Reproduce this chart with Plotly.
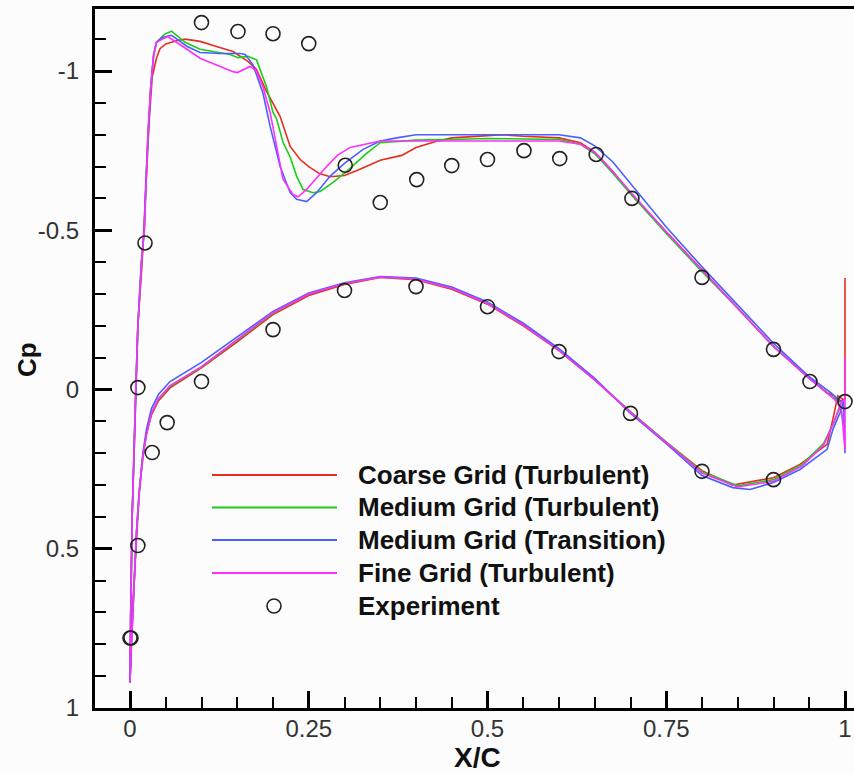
import plotly.graph_objects as go

# ---------------- data ----------------
series_names = ["Coarse Grid (Turbulent)", "Medium Grid (Turbulent)",
                "Medium Grid (Transition)", "Fine Grid (Turbulent)"]
series_colors = ["rgb(232,45,30)", "rgb(25,205,25)", "rgb(75,95,255)", "rgb(255,45,255)"]

# Coarse grid: upper surface TE->LE, then lower surface LE->TE
coarse_x = [1.0, 1.0, 0.99, 0.985, 0.975, 0.95, 0.9, 0.85, 0.8, 0.75, 0.7, 0.675, 0.65, 0.63, 0.6,
            0.55, 0.52, 0.5, 0.45, 0.43, 0.4, 0.38, 0.35, 0.32, 0.3, 0.28, 0.265, 0.25, 0.238, 0.224,
            0.21, 0.19, 0.177, 0.165, 0.144, 0.121, 0.098, 0.077, 0.066, 0.05, 0.042, 0.037, 0.031,
            0.027, 0.024, 0.021, 0.017, 0.011, 0.008, 0.005, 0.003, 0.001, 0.0,
            0.002, 0.006, 0.009, 0.013, 0.018, 0.023, 0.03, 0.04, 0.056, 0.1, 0.15, 0.2, 0.25, 0.3,
            0.35, 0.4, 0.45, 0.5, 0.55, 0.6, 0.65, 0.7, 0.75, 0.8, 0.843, 0.9, 0.937, 0.975, 0.983,
            0.987, 0.99, 1.0]
coarse_cp = [-0.35, 0.03, 0.04, 0.02, 0.01, -0.035, -0.135, -0.255, -0.375, -0.495, -0.615, -0.685,
             -0.745, -0.775, -0.79, -0.795, -0.80, -0.797, -0.79, -0.78, -0.76, -0.735, -0.72, -0.69,
             -0.672, -0.668, -0.678, -0.70, -0.722, -0.763, -0.857, -0.94, -1.005, -1.03, -1.061,
             -1.077, -1.093, -1.10, -1.096, -1.085, -1.07, -1.04, -0.98, -0.85, -0.70, -0.55, -0.40,
             -0.2, 0.0, 0.2, 0.4, 0.7, 0.92,
             0.75, 0.6, 0.45, 0.32, 0.21, 0.14, 0.08, 0.035, -0.005, -0.068, -0.15, -0.235, -0.295,
             -0.33, -0.352, -0.345, -0.315, -0.268, -0.2, -0.122, -0.03, 0.07, 0.165, 0.255, 0.30,
             0.277, 0.235, 0.172, 0.094, 0.05, 0.02, 0.035]

medium_x = [1.0, 0.99, 0.98, 0.95, 0.9, 0.85, 0.8, 0.75, 0.7, 0.675, 0.65, 0.63, 0.6, 0.5, 0.45,
            0.4, 0.35, 0.33, 0.303, 0.284, 0.266, 0.256, 0.242, 0.233, 0.224, 0.214, 0.205, 0.2,
            0.191, 0.186, 0.177, 0.165, 0.151, 0.14, 0.098, 0.077, 0.058, 0.048, 0.037, 0.033,
            0.029, 0.025, 0.022, 0.02, 0.016, 0.011, 0.008, 0.005, 0.003, 0.001, 0.0,
            0.002, 0.006, 0.009, 0.013, 0.018, 0.023, 0.03, 0.04, 0.056, 0.1, 0.15, 0.2, 0.25, 0.3,
            0.35, 0.4, 0.45, 0.5, 0.55, 0.6, 0.65, 0.7, 0.75, 0.8, 0.85, 0.9, 0.94, 0.97, 0.985,
            0.995, 1.0]
medium_cp = [0.12, 0.035, 0.02, -0.035, -0.135, -0.255, -0.37, -0.49, -0.615, -0.68, -0.74, -0.77,
             -0.785, -0.788, -0.785, -0.783, -0.775, -0.74, -0.685, -0.65, -0.622, -0.618, -0.628,
             -0.67, -0.73, -0.776, -0.85, -0.87, -0.95, -0.98, -1.035, -1.046, -1.042, -1.052,
             -1.068, -1.09, -1.125, -1.115, -1.09, -1.05, -0.95, -0.8, -0.65, -0.5, -0.4, -0.2, 0.0,
             0.2, 0.4, 0.7, 0.92,
             0.8, 0.62, 0.45, 0.32, 0.21, 0.14, 0.075, 0.03, -0.01, -0.07, -0.155, -0.24, -0.3,
             -0.333, -0.353, -0.347, -0.318, -0.27, -0.203, -0.123, -0.03, 0.07, 0.165, 0.258,
             0.302, 0.283, 0.235, 0.17, 0.1, 0.04, 0.03]

transition_x = [1.0, 0.998, 0.99, 0.98, 0.95, 0.9, 0.85, 0.8, 0.75, 0.7, 0.675, 0.65, 0.63, 0.6,
                0.5, 0.4, 0.373, 0.35, 0.326, 0.3, 0.28, 0.261, 0.247, 0.233, 0.224, 0.21, 0.196,
                0.186, 0.172, 0.161, 0.154, 0.125, 0.098, 0.08, 0.058, 0.045, 0.037, 0.033, 0.029,
                0.025, 0.022, 0.02, 0.016, 0.011, 0.008, 0.005, 0.003, 0.001, 0.0,
                0.002, 0.006, 0.009, 0.013, 0.018, 0.023, 0.03, 0.04, 0.056, 0.1, 0.15, 0.2, 0.25,
                0.3, 0.35, 0.4, 0.45, 0.5, 0.55, 0.6, 0.65, 0.7, 0.75, 0.8, 0.843, 0.867, 0.9,
                0.937, 0.975, 0.983, 0.993, 0.999]
transition_cp = [0.2, 0.04, 0.03, 0.01, -0.04, -0.145, -0.265, -0.385, -0.51, -0.645, -0.715,
                 -0.765, -0.79, -0.80, -0.80, -0.80, -0.79, -0.78, -0.754, -0.71, -0.67, -0.618,
                 -0.59, -0.597, -0.618, -0.70, -0.826, -0.93, -1.02, -1.052, -1.055, -1.055,
                 -1.058, -1.077, -1.112, -1.105, -1.09, -1.05, -0.95, -0.8, -0.65, -0.5, -0.4,
                 -0.2, 0.0, 0.2, 0.4, 0.7, 0.92,
                 0.8, 0.62, 0.45, 0.32, 0.2, 0.125, 0.06, 0.015, -0.025, -0.085, -0.165, -0.245,
                 -0.303, -0.335, -0.355, -0.35, -0.322, -0.275, -0.208, -0.128, -0.035, 0.075,
                 0.17, 0.27, 0.308, 0.314, 0.292, 0.251, 0.188, 0.126, 0.073, 0.03]

fine_x = [1.0, 1.0, 0.995, 0.985, 0.95, 0.9, 0.85, 0.8, 0.75, 0.7, 0.675, 0.65, 0.63, 0.6, 0.5,
          0.4, 0.35, 0.308, 0.29, 0.275, 0.26, 0.247, 0.235, 0.228, 0.214, 0.205, 0.196, 0.186,
          0.177, 0.168, 0.16, 0.15, 0.144, 0.12, 0.098, 0.074, 0.053, 0.045, 0.037, 0.033, 0.029,
          0.025, 0.022, 0.02, 0.016, 0.011, 0.008, 0.005, 0.003, 0.001, 0.0,
          0.002, 0.006, 0.009, 0.013, 0.018, 0.023, 0.03, 0.04, 0.056, 0.1, 0.15, 0.2, 0.25, 0.3,
          0.35, 0.4, 0.45, 0.5, 0.55, 0.6, 0.65, 0.7, 0.75, 0.8, 0.85, 0.9, 0.94, 0.97, 0.985,
          0.995, 1.0]
fine_cp = [-0.1, 0.19, 0.06, 0.03, -0.035, -0.135, -0.255, -0.375, -0.495, -0.62, -0.685, -0.745,
           -0.77, -0.78, -0.78, -0.78, -0.78, -0.76, -0.735, -0.70, -0.66, -0.628, -0.605, -0.612,
           -0.66, -0.763, -0.87, -0.95, -1.0, -1.014, -1.005, -0.995, -0.998, -1.02, -1.04,
           -1.077, -1.108, -1.1, -1.09, -1.05, -0.95, -0.8, -0.65, -0.5, -0.4, -0.2, 0.0, 0.2, 0.4,
           0.7, 0.92,
           0.8, 0.62, 0.45, 0.32, 0.21, 0.14, 0.075, 0.028, -0.012, -0.072, -0.157, -0.242, -0.3,
           -0.333, -0.353, -0.347, -0.318, -0.27, -0.203, -0.123, -0.03, 0.072, 0.167, 0.262,
           0.306, 0.288, 0.24, 0.175, 0.1, 0.04, 0.03]

exp_name = "Experiment"
exp_x = [0.1, 0.151, 0.2, 0.25, 0.301, 0.35, 0.401, 0.45, 0.5, 0.551, 0.601, 0.652, 0.702, 0.8,
         0.9, 0.951, 1.0, 0.021, 0.0, 0.0014, 0.011, 0.011, 0.031, 0.052, 0.1, 0.2, 0.3, 0.4, 0.5,
         0.6, 0.7, 0.8, 0.9]
exp_cp = [-1.152, -1.124, -1.117, -1.086, -0.704, -0.587, -0.659, -0.703, -0.722, -0.750, -0.725,
          -0.738, -0.600, -0.352, -0.126, -0.025, 0.038, -0.46, 0.78, 0.78, 0.49, -0.006, 0.198,
          0.104, -0.025, -0.188, -0.311, -0.323, -0.26, -0.119, 0.075, 0.257, 0.283]

x_tickvals = [0, 0.25, 0.5, 0.75, 1]
x_ticktext = ["0", "0.25", "0.5", "0.75", "1"]
y_tickvals = [-1, -0.5, 0, 0.5, 1]
y_ticktext = ["-1", "-0.5", "0", "0.5", "1"]

# ---------------- figure ----------------
W, H = 854, 773
ML, MR, MT, MB = 95, 0, 9, 65
PW, PH = W - ML - MR, H - MT - MB

fig = go.Figure()
curves = [(coarse_x, coarse_cp), (medium_x, medium_cp), (transition_x, transition_cp), (fine_x, fine_cp)]
for (xs, ys), name, col in zip(curves, series_names, series_colors):
    fig.add_trace(go.Scatter(x=xs, y=ys, mode="lines", name=name,
                             line=dict(color=col, width=1.6), showlegend=False))
fig.add_trace(go.Scatter(x=exp_x, y=exp_cp, mode="markers", name=exp_name, showlegend=False,
                         marker=dict(symbol="circle-open", size=14, color="#222",
                                     line=dict(width=1.6, color="#222"))))

# custom legend (paper coordinates derived from pixel layout)
def px_x(p):
    return (p - ML) / PW

def px_y(p):
    return (H - MB - p) / PH

row_px = [475, 507.5, 540, 573, 606]
font_family = "Liberation Sans, Arial, Helvetica, sans-serif"
shapes = []
annotations = []
for i, (name, col) in enumerate(zip(series_names, series_colors)):
    yy = px_y(row_px[i])
    shapes.append(dict(type="line", xref="paper", yref="paper", x0=px_x(212), x1=px_x(337),
                       y0=yy, y1=yy, line=dict(color=col, width=2)))
    annotations.append(dict(text=name, xref="paper", yref="paper", x=px_x(356), y=yy,
                            xanchor="left", yanchor="middle", showarrow=False,
                            font=dict(family=font_family, size=26, color="#111", weight="bold")))
yy = px_y(row_px[4])
shapes.append(dict(type="circle", xref="paper", yref="paper", xsizemode="pixel", ysizemode="pixel",
                   xanchor=px_x(274), yanchor=yy, x0=-7, x1=7, y0=-7, y1=7,
                   line=dict(color="#222", width=1.6)))
annotations.append(dict(text=exp_name, xref="paper", yref="paper", x=px_x(356), y=yy,
                        xanchor="left", yanchor="middle", showarrow=False,
                        font=dict(family=font_family, size=26, color="#111", weight="bold")))

# axis titles
annotations.append(dict(text="X/C", xref="paper", yref="paper", x=px_x(477), y=px_y(757),
                        xanchor="center", yanchor="middle", showarrow=False,
                        font=dict(family=font_family, size=28, color="#111", weight="bold")))
annotations.append(dict(text="Cp", xref="paper", yref="paper", x=px_x(27), y=px_y(360),
                        xanchor="center", yanchor="middle", showarrow=False, textangle=-90,
                        font=dict(family=font_family, size=26, color="#111", weight="bold")))

fig.update_layout(
    width=W, height=H,
    margin=dict(l=ML, r=MR, t=MT, b=MB, pad=0),
    paper_bgcolor="#fcfcfc", plot_bgcolor="#fcfcfc",
    shapes=shapes, annotations=annotations, showlegend=False,
    font=dict(family=font_family),
)
fig.update_xaxes(range=[(ML - 130) / 715, (W - 130) / 715], showgrid=False, zeroline=False,
                 showline=True, linecolor="#000", linewidth=3, mirror=True,
                 tickmode="array", tickvals=x_tickvals, ticktext=x_ticktext,
                 ticks="inside", ticklen=17, tickwidth=3, tickcolor="#000",
                 tickfont=dict(size=24, color="#333"), ticklabelstandoff=-3,
                 minor=dict(dtick=0.05, tick0=0, ticks="inside", ticklen=11, tickwidth=1.5,
                            tickcolor="#000", showgrid=False))
fig.update_yaxes(range=[1, -1 - (71 - MT) / 318.5], showgrid=False, zeroline=False,
                 showline=True, linecolor="#000", linewidth=3, mirror=False,
                 tickmode="array", tickvals=y_tickvals, ticktext=y_ticktext,
                 ticks="inside", ticklen=17, tickwidth=3, tickcolor="#000",
                 tickfont=dict(size=24, color="#333"), ticklabelstandoff=8,
                 minor=dict(dtick=0.1, tick0=0, ticks="inside", ticklen=11, tickwidth=1.5,
                            tickcolor="#000", showgrid=False))

fig.write_html("out.html")
